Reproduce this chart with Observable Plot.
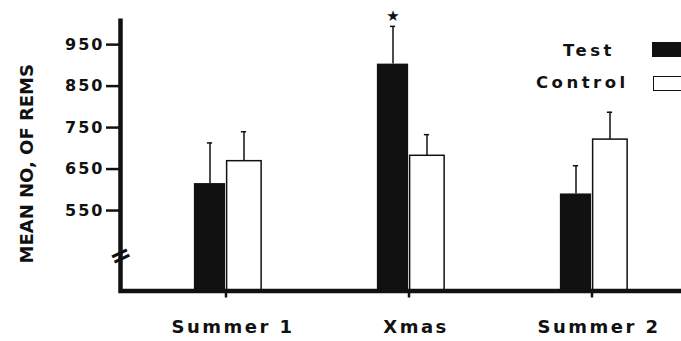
<!DOCTYPE html>
<html><head><meta charset="utf-8">
<script src="https://cdn.jsdelivr.net/npm/d3@7"></script>
<script src="https://cdn.jsdelivr.net/npm/@observablehq/plot@0.6"></script>
<style>
html,body{margin:0;padding:0;background:#fff;overflow:hidden;}
#wrap{position:relative;width:681px;height:341px;overflow:hidden;}
svg text{font-weight:bold;}
g[aria-label="y-axis tick label"] text{letter-spacing:2px;}
g[aria-label="x-axis tick label"] text{letter-spacing:2.5px;}
g[aria-label="ytitle"] text{letter-spacing:1.2px;word-spacing:3px;}
.leg{position:absolute;font-family:"DejaVu Sans",sans-serif;font-weight:bold;font-size:16.5px;letter-spacing:3.5px;color:#111;line-height:1;white-space:nowrap;}
.sw{position:absolute;box-sizing:border-box;width:40px;height:15px;}
</style></head><body><div id="wrap"></div>
<script>
// ---- data ----
const groups = ["Summer 1", "Xmas", "Summer 2"];
const seriesNames = ["Test", "Control"];
const testMeans = [615, 903, 590];
const controlMeans = [669, 682, 721];
const testErrors = [98, 91, 68];
const controlErrors = [71, 51, 66];
const yTicks = [550, 650, 750, 850, 950];
const yDomain = [356, 1013];
const starGroup = "Xmas";
const breakValue = 441;
const yLabel = "MEAN NO, OF REMS";

const rows = groups.flatMap((g, i) => [
  {group: g, series: seriesNames[0], mean: testMeans[i], err: testErrors[i]},
  {group: g, series: seriesNames[1], mean: controlMeans[i], err: controlErrors[i]}
]);
const test = rows.filter(d => d.series === "Test");
const control = rows.filter(d => d.series === "Control");
const starRows = test.filter(d => d.group === starGroup);

const W = 681, H = 341, mL = 120, mT = 18, mB = 50.5, mR = 0;
const step = 183.75, half = step / 2, c0 = 224.3;
const fw = W - mL - mR, fh = H - mT - mB;
const ink = "#111";
const font = '"DejaVu Sans", sans-serif';

const chart = Plot.plot({
  width: W, height: H,
  marginLeft: mL, marginTop: mT, marginBottom: mB, marginRight: mR,
  style: {fontFamily: font, background: "white", color: ink, overflow: "visible"},
  x: {type: "band", domain: groups, range: [c0 - half, c0 + 2 * step + half], padding: 0, axis: null},
  y: {domain: yDomain, axis: null},
  marks: [
    Plot.barY(test, {x: "group", y1: () => yDomain[0], y2: "mean", fill: ink, insetLeft: half - 32, insetRight: half}),
    Plot.barY(control, {x: "group", y1: () => yDomain[0], y2: "mean", fill: "white", stroke: ink, strokeWidth: 1.5, insetLeft: half + 0.75, insetRight: half - 36}),
    Plot.ruleX(test, {x: "group", y1: "mean", y2: d => d.mean + d.err, dx: -16, stroke: ink, strokeWidth: 1.5}),
    Plot.ruleX(control, {x: "group", y1: "mean", y2: d => d.mean + d.err, dx: 18, stroke: ink, strokeWidth: 1.5}),
    Plot.tickY(test, {x: "group", y: d => d.mean + d.err, insetLeft: half - 16 - 3, insetRight: half + 16 - 3, stroke: ink, strokeWidth: 1.5}),
    Plot.tickY(control, {x: "group", y: d => d.mean + d.err, insetLeft: half + 18 - 3, insetRight: half - 18 - 3, stroke: ink, strokeWidth: 1.5}),
    Plot.text(starRows, {x: "group", y: d => d.mean + d.err, text: () => "★", dx: -16, dy: -10, fontSize: 15, fill: ink}),
    Plot.frame({stroke: ink, strokeWidth: 4.5, strokeDasharray: `0,${fw + fh},${fw + fh}`}),
    Plot.text([breakValue], {frameAnchor: "left", y: d => d, text: () => "=", rotate: -25, fontSize: 26, textAnchor: "middle", fill: ink}),
    Plot.axisY({ticks: yTicks, tickSize: 14, tickPadding: 2, tickFormat: d => String(d), fontSize: 16, strokeWidth: 2.5, label: null, stroke: ink}),
    Plot.axisX({tickSize: 7, tickFormat: () => "", strokeWidth: 2.5, label: null, stroke: ink}),
    Plot.axisX({tickSize: 0, tickPadding: 29, fontSize: 18, dx: 7, label: null}),
    Plot.text([yLabel], {frameAnchor: "left", text: d => d, rotate: -90, dx: -93, dy: 9, fontSize: 18, textAnchor: "middle", fill: ink, ariaLabel: "ytitle"})
  ]
});
const wrap = document.getElementById("wrap");
wrap.appendChild(chart);

// legend (HTML overlay)
const legendItems = [
  {name: seriesNames[0], textLeft: 563, textTop: 43, swLeft: 652, swTop: 41.7, fill: ink, border: "none"},
  {name: seriesNames[1], textLeft: 536, textTop: 75, swLeft: 653, swTop: 75.7, fill: "white", border: "1.5px solid " + ink}
];
for (const it of legendItems) {
  const t = document.createElement("div");
  t.className = "leg";
  t.textContent = it.name;
  t.style.left = it.textLeft + "px";
  t.style.top = it.textTop + "px";
  wrap.appendChild(t);
  const s = document.createElement("div");
  s.className = "sw";
  s.style.left = it.swLeft + "px";
  s.style.top = it.swTop + "px";
  s.style.background = it.fill;
  s.style.border = it.border;
  wrap.appendChild(s);
}
</script></body></html>
